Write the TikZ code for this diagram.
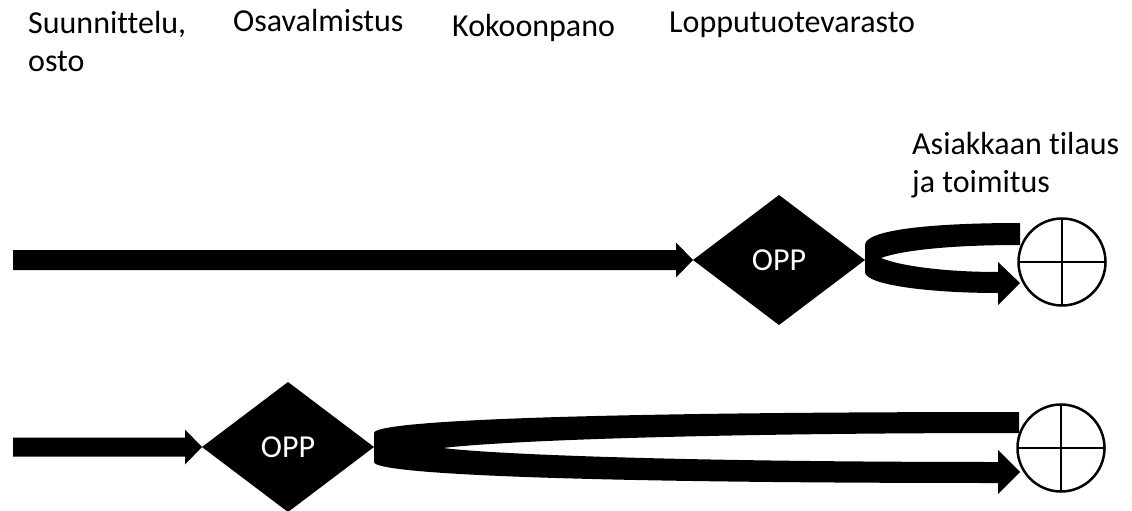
\documentclass[tikz,border=0pt]{standalone}
\usepackage{fontspec}
\setmainfont{Carlito}[Ligatures=NoCommon]
\usetikzlibrary{shapes.geometric,calc}

\begin{document}
\begin{tikzpicture}[x=1pt,y=-1pt,
  stagetext/.style={font=\fontsize{32}{38}\selectfont, anchor=base west, inner sep=0, align=left},
  opp/.style={diamond, fill=black, text=white, font=\fontsize{32}{38}\selectfont,
    minimum width=172, minimum height=130, inner sep=0, outer sep=0},
  target/.style={circle, draw, line width=2.5, minimum size=87, inner sep=0, outer sep=0},
  cross/.style={line width=2.5},
  band/.style={fill=black}]

% canvas
\useasboundingbox (0,0) rectangle (1132,511);

% stage headings (base anchor of a two-line node sits on its last line)
\node[stagetext] (t1) at (28,71) {Suunnittelu,\\osto};
\node[stagetext] (t2) at (233,32) {Osavalmistus};
\node[stagetext] (t3) at (452,37) {Kokoonpano};
\node[stagetext] (t4) at (669,33) {Lopputuotevarasto};
\node[stagetext] (t5) at (912,192) {Asiakkaan tilaus\\ja toimitus};

% order penetration points
\node[opp] (d1) at (779,260) {OPP};
\node[opp] (d2) at (288,447) {OPP};

% customer symbols
\node[target] (c1) at (1062,262) {};
\draw[cross] (c1.north) -- (c1.south) (c1.west) -- (c1.east);
\node[target] (c2) at (1061,448) {};
\draw[cross] (c2.north) -- (c2.south) (c2.west) -- (c2.east);

% straight flows into the OPPs
\coordinate (s1) at (13,260);
\coordinate (s2) at (13,447);
\fill[band] ($(s1)+(0,-10)$) -- ($(d1.west)+(-17,-10)$) -- ($(d1.west)+(-17,-17.5)$)
  -- (d1.west) -- ($(d1.west)+(-17,17.5)$) -- ($(d1.west)+(-17,10)$)
  -- ($(s1)+(0,10)$) -- cycle;
\fill[band] ($(s2)+(0,-9.5)$) -- ($(d2.west)+(-17,-9.5)$) -- ($(d2.west)+(-17,-17.5)$)
  -- (d2.west) -- ($(d2.west)+(-17,17.5)$) -- ($(d2.west)+(-17,9.5)$)
  -- ($(s2)+(0,9.5)$) -- cycle;

% U-turn from the upper OPP to the customer
\fill[band] (1020,223) .. controls (930,223) and (865,230) .. (865,245)
  -- (865,272) .. controls (865,285) and (930,293) .. (998,293)
  -- (998,305) -- (1020,283) -- (998,262) -- (998,272)
  .. controls (945,272) and (900,266) .. (881,258)
  .. controls (900,251) and (945,245) .. (1020,245) -- cycle;

% long U-turn from the lower OPP to the customer
\fill[band] (1019,412) .. controls (600,412) and (374,420) .. (374,433)
  -- (374,462) .. controls (374,475) and (600,483) .. (998,483)
  -- (998,494) -- (1020,472) -- (998,450) -- (998,462)
  .. controls (700,462) and (500,455) .. (443,448)
  .. controls (500,441) and (700,433) .. (1019,433) -- cycle;
\end{tikzpicture}
\end{document}
